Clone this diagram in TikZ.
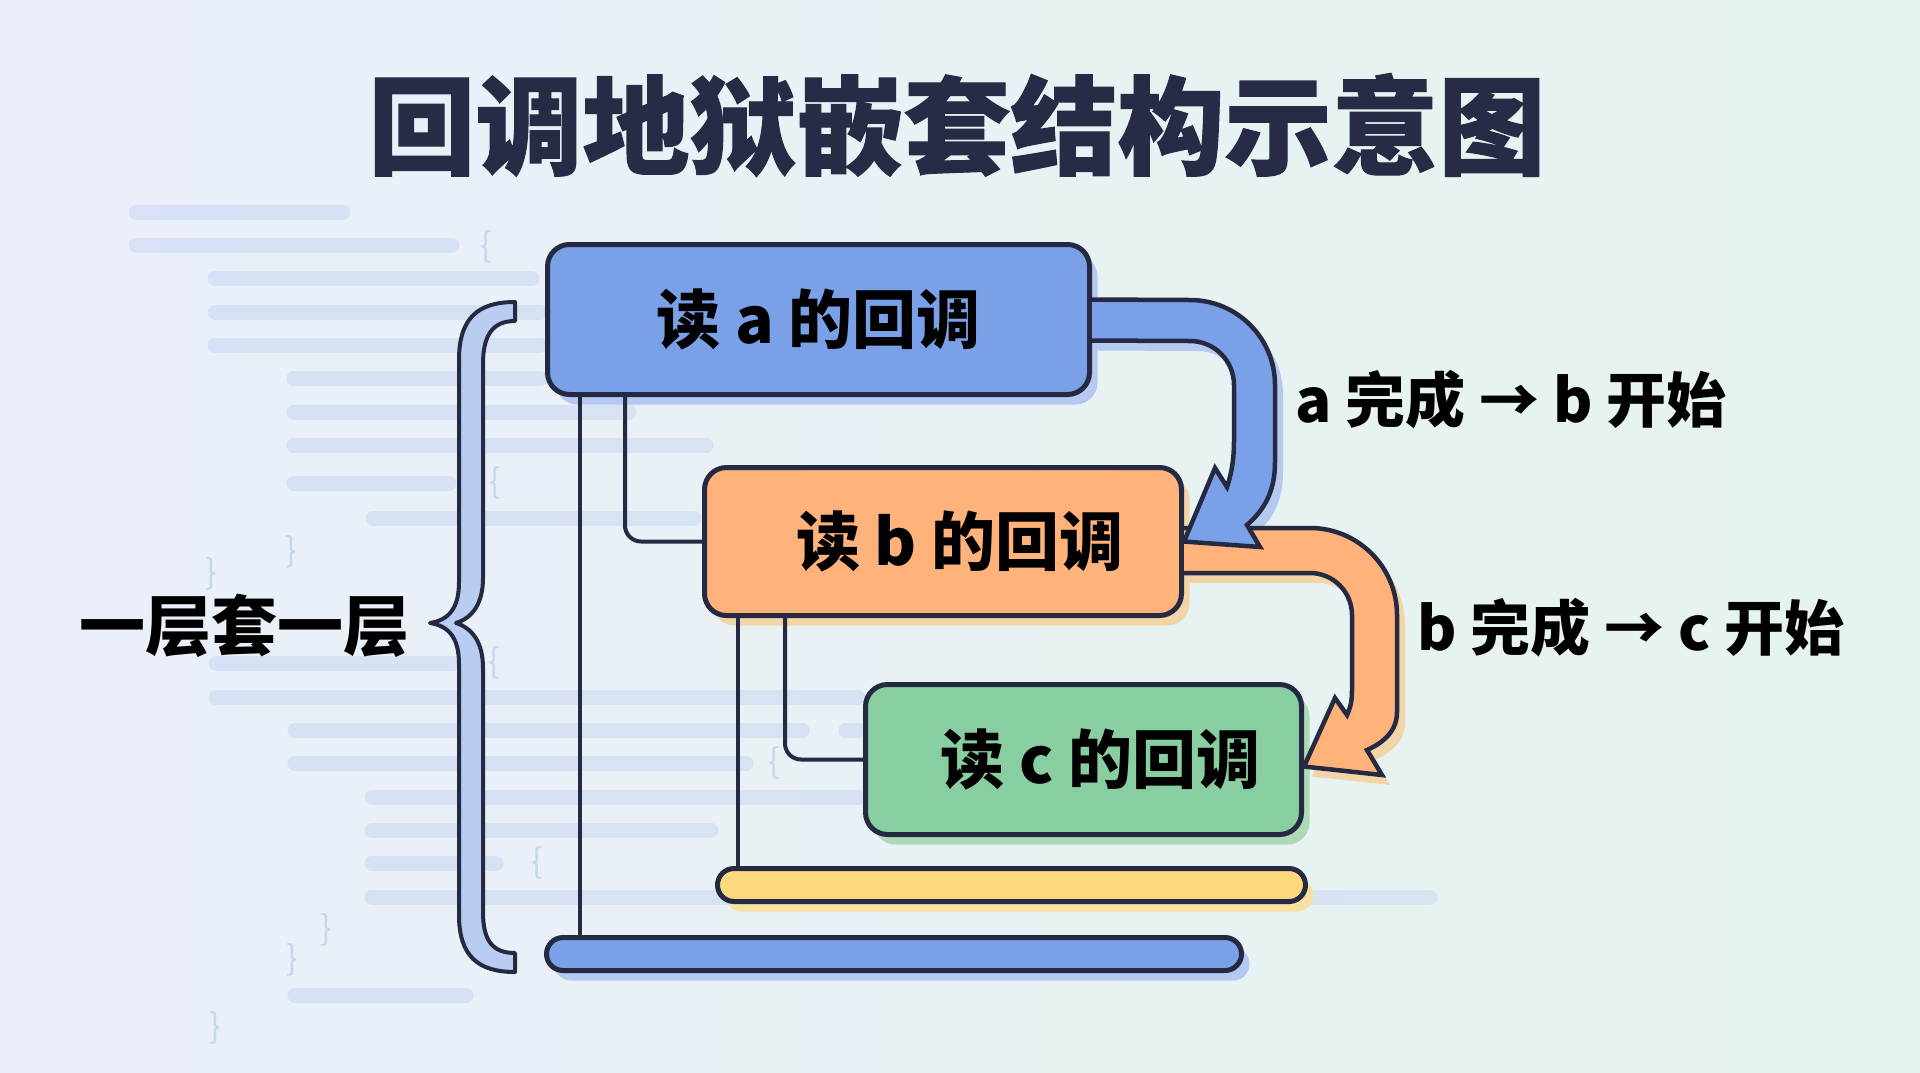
\documentclass[tikz,border=0pt]{standalone}
\usepackage{fontspec}
\setmainfont{Noto Sans CJK SC}
\usetikzlibrary{positioning, calc, shadows}
\definecolor{inkdark}{HTML}{252A42}
\definecolor{titleink}{HTML}{272B45}
\definecolor{bgleft}{HTML}{EBEFFA}
\definecolor{bgright}{HTML}{E5F4EE}
\definecolor{codeblue}{HTML}{C9D6F2}
\definecolor{codebr}{HTML}{C6D5F0}
\definecolor{boxblue}{HTML}{7AA1E8}
\definecolor{boxorange}{HTML}{FFB27A}
\definecolor{boxgreen}{HTML}{88CEA0}
\definecolor{boxyellow}{HTML}{FDD97E}
\definecolor{bracefill}{HTML}{B9CCF1}
\definecolor{blueshade}{HTML}{B5C8EF}
\definecolor{orangeshade}{HTML}{F2D5A6}
\definecolor{greenshade}{HTML}{ADD9B5}
\definecolor{yellowshade}{HTML}{F6E0A2}

% outlines of the two fat arrows (used for shadow and fill)
\newcommand{\abband}{($(a.east)+(-2.5,-20)$) -- (1190,300) arc[start angle=-90, end angle=0, radius=85] -- (1275,462) .. controls (1275,492) and (1264,510) .. (1247,525) -- (1260,547) -- (b.east) -- (1215,468) -- (1227,487) .. controls (1232,472) and (1234,458) .. (1234,440) -- (1234,385) arc[start angle=0, end angle=-90, radius=44] -- ($(a.east)+(-2.5,21)$) -- cycle}
\newcommand{\bcband}{($(b.east)+(-2.5,-13.5)$) -- (1310,528) arc[start angle=-90, end angle=0, radius=87] -- (1397,712) .. controls (1397,730) and (1385,742) .. (1367,750) -- (1382,775) -- ($(c.east)+(0,7)$) -- (1335,698) -- (1347,715) .. controls (1351,706) and (1352,700) .. (1352,690) -- (1352,615) arc[start angle=0, end angle=-90, radius=42] -- ($(b.east)+(-2.5,31.5)$) -- cycle}

\begin{document}
\begin{tikzpicture}[x=1pt, y=-1pt,
    cbox/.style={draw=inkdark, line width=5pt, rounded corners=22pt, inner sep=0pt, font=\bfseries\fontsize{64}{64}\selectfont, text=black},
    cbar/.style={draw=inkdark, line width=5pt, rounded corners=16.5pt, minimum height=33pt, inner sep=0pt},
    wire/.style={draw=inkdark, line width=4pt, rounded corners=16pt},
    band/.style={draw=inkdark, line width=4.5pt},
    codeline/.style={draw=codeblue, opacity=0.55, line width=15pt, line cap=round},
    codebrace/.style={text=codebr, inner sep=0pt, font=\fontsize{34}{34}\selectfont},
    note/.style={font=\bfseries\fontsize{60}{60}\selectfont, text=black}]
    \useasboundingbox (0,0) rectangle (1920,1072);
    \shade[left color=bgleft, right color=bgright] (0,0) rectangle (1920,1072);

    % faint code in the background
    \foreach \yy/\xa/\xb [count=\i] in {212/136/343, 245/136/452, 278/215/532, 312/215/540, 345/215/540, 378/294/540, 412/294/629, 445/294/706, 483/294/449, 518/373/694, 663/216/453, 697/216/858, 730/295/802, 730/846/858, 763/295/746, 797/372/858, 830/372/711, 863/372/496, 897/372/1430, 995/295/466}
        \draw[codeline] (\xa,\yy) coordinate (cl\i) -- (\xb,\yy);
    \foreach \xx/\yy [count=\i] in {486/247, 495/483, 494/663, 774/763, 537/863}
        \node[codebrace] (ob\i) at (\xx,\yy) {\{};
    \foreach \xx/\yy [count=\i] in {291/552, 211/574, 326/930, 292/960, 215/1028}
        \node[codebrace] (cb\i) at (\xx,\yy) {\}};

    \node[font=\fontsize{107}{107}\selectfont\bfseries\addfontfeature{FakeBold=1}, text=titleink] (title) at (957,125) {回调地狱嵌套结构示意图};

    % left brace
    \filldraw[fill=bracefill, draw=inkdark, line width=4pt, line join=round]
        (515,302) .. controls (478,302) and (459,318) .. (459,360)
        -- (459,582) .. controls (459,608) and (449,620) .. (430,623)
        .. controls (449,626) and (459,638) .. (459,664)
        -- (459,915) .. controls (459,956) and (478,972) .. (515,972)
        -- (515,953) .. controls (492,953) and (483,940) .. (483,912)
        -- (483,668) .. controls (483,642) and (472,628) .. (456,623)
        .. controls (472,618) and (483,604) .. (483,578)
        -- (483,364) .. controls (483,336) and (492,321) .. (515,321) -- cycle;
    \node[font=\bfseries\fontsize{66}{66}\selectfont, text=black, inner sep=2pt] (layers) at (244,626) {一层套一层};

    % callbacks and closing bars
    \node[cbox, fill=boxblue, minimum width=542pt, minimum height=150pt, drop shadow={shadow xshift=8pt, shadow yshift=-10pt, fill=blueshade, opacity=1}] (a) at (818.5,319.5) {读 a 的回调};
    \node[cbox, fill=boxorange, minimum width=477pt, minimum height=148pt, drop shadow={shadow xshift=8pt, shadow yshift=-10pt, fill=orangeshade, opacity=1}] (b) at (943,541.5) {\hspace*{34pt}读 b 的回调};
    \node[cbox, fill=boxgreen, minimum width=436pt, minimum height=150pt, drop shadow={shadow xshift=8pt, shadow yshift=-10pt, fill=greenshade, opacity=1}] (c) at (1083.5,759.5) {\hspace*{34pt}读 c 的回调};
    \node[cbar, fill=boxyellow, minimum width=588pt, drop shadow={shadow xshift=8pt, shadow yshift=-10pt, fill=yellowshade, opacity=1}] (ybar) at (1011.5,885) {};
    \node[cbar, fill=boxblue, minimum width=695pt, drop shadow={shadow xshift=8pt, shadow yshift=-10pt, fill=blueshade, opacity=1}] (bbar) at (894,954) {};

    \draw[wire] ($(a.south west)+(35,0)$) coordinate (aout) -- (aout |- bbar.north);
    \draw[wire] ($(a.south west)+(80,0)$) |- (b.west);
    \draw[wire] ($(b.south west)+(36,0)$) coordinate (bout) -- (bout |- ybar.north);
    \draw[wire] ($(b.south west)+(83,0)$) |- (c.west);

    % fat arrows
    \fill[blueshade, transform canvas={xshift=8pt, yshift=-10pt}] \abband;
    \fill[orangeshade, transform canvas={xshift=8pt, yshift=-10pt}] \bcband;
    \filldraw[band, fill=boxorange] \bcband;
    \filldraw[band, fill=boxblue] \abband;

    \node[note] (ab) at (1511,400) {a 完成 → b 开始};
    \node[note] (bc) at (1631,628) {b 完成 → c 开始};
\end{tikzpicture}
\end{document}
